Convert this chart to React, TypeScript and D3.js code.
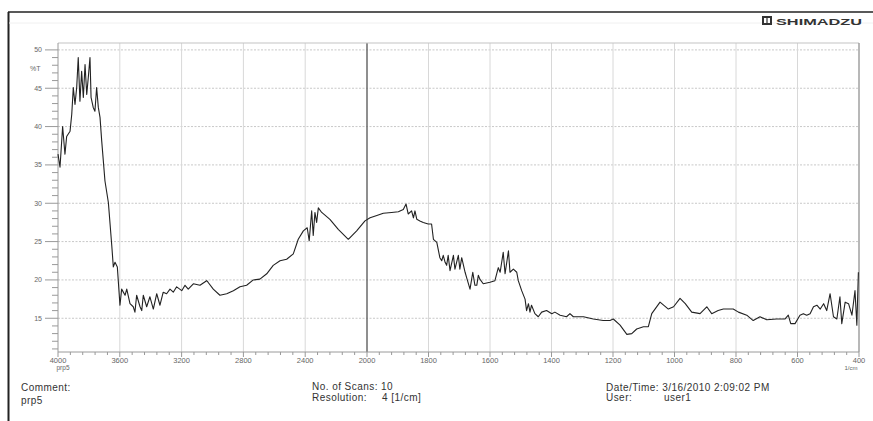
import React, { useEffect, useRef } from "react";
import * as d3 from "d3";

// wavenumber (1/cm)
const wavenumbers = [
  4000, 3987, 3970, 3955, 3944, 3922, 3911, 3901, 3890, 3879, 3869, 3858, 3847, 3836, 3825, 3814,
  3804, 3793, 3786, 3772, 3761, 3750, 3739, 3728, 3717, 3696, 3674, 3652, 3642, 3631, 3616, 3599,
  3588, 3566, 3555, 3534, 3513, 3502, 3491, 3469, 3458, 3448, 3426, 3405, 3383, 3361, 3340, 3319,
  3297, 3275, 3254, 3232, 3199, 3178, 3157, 3124, 3081, 3038, 3029, 2995, 2952, 2908, 2865, 2822,
  2779, 2736, 2693, 2649, 2607, 2563, 2520, 2477, 2445, 2412, 2387, 2374, 2358, 2348, 2337, 2326,
  2315, 2293, 2240, 2186, 2121, 2067, 2013, 1990, 1968, 1947, 1920, 1898, 1882, 1873, 1866, 1855,
  1849, 1844, 1838, 1828, 1817, 1801, 1790, 1784, 1773, 1763, 1757, 1752, 1746, 1741, 1736, 1730,
  1719, 1714, 1703, 1698, 1692, 1681, 1676, 1665, 1656, 1649, 1643, 1638, 1633, 1622, 1600, 1584,
  1573, 1567, 1557, 1551, 1540, 1535, 1524, 1513, 1508, 1497, 1486, 1481, 1475, 1470, 1465, 1454,
  1443, 1432, 1416, 1399, 1389, 1372, 1351, 1340, 1329, 1296, 1264, 1232, 1210, 1199, 1177, 1155,
  1139, 1123, 1101, 1085, 1074, 1047, 1020, 1003, 982, 965, 944, 917, 895, 879, 858, 841,
  809, 792, 765, 744, 722, 700, 668, 641, 630, 622, 608, 592, 581, 570, 559, 548,
  537, 526, 515, 505, 494, 483, 472, 462, 456, 445, 434, 423, 413, 407, 402,
];

// transmittance %T at each wavenumber
const transmittance = [
  36.4, 34.7, 40.0, 36.4, 38.7, 39.4, 41.6, 45.1, 42.9, 45.1, 49.0, 43.3, 47.2, 43.8, 48.1, 44.2,
  46.4, 49.0, 43.8, 42.5, 42.0, 45.1, 42.5, 41.2, 38.1, 32.9, 30.1, 24.5, 21.7, 22.3, 21.7, 16.7,
  18.8, 18.0, 18.8, 16.9, 16.5, 15.8, 18.0, 16.5, 16.0, 18.0, 16.5, 17.8, 16.2, 18.2, 16.7, 18.4,
  18.2, 18.8, 18.4, 19.1, 18.6, 19.3, 18.8, 19.5, 19.3, 19.9, 19.7, 18.8, 18.0, 18.2, 18.6, 19.1,
  19.3, 20.0, 20.1, 20.8, 21.9, 22.5, 22.7, 23.4, 25.3, 26.4, 26.8, 25.1, 29.0, 25.8, 28.8, 27.5,
  29.4, 28.8, 27.9, 26.6, 25.3, 26.4, 27.7, 28.1, 28.4, 28.7, 28.8, 28.9, 29.2, 29.9, 28.6, 29.0,
  28.1, 29.0, 27.9, 27.7, 27.5, 27.3, 27.3, 25.3, 24.9, 22.9, 22.5, 23.2, 22.3, 21.9, 23.2, 21.2,
  23.2, 21.4, 23.2, 21.4, 22.9, 21.0, 20.3, 18.8, 21.0, 19.3, 19.3, 20.6, 20.1, 19.5, 19.7, 19.9,
  21.6, 21.0, 23.6, 20.8, 23.8, 21.0, 21.4, 21.0, 19.9, 18.6, 17.5, 16.0, 16.9, 15.8, 16.7, 15.6,
  15.2, 15.8, 16.0, 15.6, 15.8, 15.4, 15.2, 15.6, 15.2, 15.2, 14.9, 14.7, 14.7, 14.9, 14.1, 12.9,
  13.0, 13.6, 13.9, 13.9, 15.6, 17.1, 16.2, 16.5, 17.6, 16.9, 15.8, 15.6, 16.5, 15.6, 16.0, 16.2,
  16.2, 15.8, 15.4, 14.7, 15.2, 14.8, 14.9, 14.9, 15.4, 14.3, 14.3, 15.4, 15.6, 15.4, 15.6, 16.5,
  16.7, 16.2, 16.9, 16.0, 18.2, 15.2, 14.9, 17.8, 14.3, 17.1, 16.9, 15.4, 18.6, 14.1, 21.0,
];

const xMajorTicks = [4000, 3600, 3200, 2800, 2400, 2000, 1800, 1600, 1400, 1200, 1000, 800, 600, 400];
const yMajorTicks = [15, 20, 25, 30, 35, 40, 45, 50];

const App: React.FC = () => {
  const svgRef: any = useRef();

  useEffect(() => {
    const svg = d3.select(svgRef.current);
    svg.selectAll("*").remove();

    const width = 873;
    const font = "'Liberation Sans', Arial, sans-serif";

    const left = 58;
    const right = 859;
    const top = 43;
    const bottom = 352;

    // Shimadzu charts switch to a doubled scale below 2000 1/cm
    const xScale = d3.scaleLinear().domain([4000, 2000, 400]).range([left, 367, right]);
    const yScale = d3.scaleLinear().domain([10.6, 50.9]).range([bottom, top]);

    // outer frame
    svg.append("line").attr("x1", 8).attr("y1", 12).attr("x2", width).attr("y2", 12)
      .attr("stroke", "#222").attr("stroke-width", 1.6);
    svg.append("line").attr("x1", 8.5).attr("y1", 12).attr("x2", 8.5).attr("y2", 421)
      .attr("stroke", "#222").attr("stroke-width", 2);
    svg.append("line").attr("x1", 9).attr("y1", 23).attr("x2", width).attr("y2", 23)
      .attr("stroke", "#f0f0f0").attr("stroke-width", 1);

    // logo
    const logo = svg.append("g").attr("transform", "translate(762,16)");
    logo.append("rect").attr("x", 0).attr("y", 0).attr("width", 10).attr("height", 9).attr("fill", "#333");
    logo.append("rect").attr("x", 2).attr("y", 2).attr("width", 6).attr("height", 5).attr("fill", "#fff");
    logo.append("line").attr("x1", 5).attr("y1", 0).attr("x2", 5).attr("y2", 9).attr("stroke", "#333").attr("stroke-width", 1.2);
    svg.append("text").attr("x", 776).attr("y", 24.5)
      .attr("font-family", font).attr("font-size", "9.5px").attr("font-weight", "bold")
      .attr("textLength", 86).attr("lengthAdjust", "spacingAndGlyphs")
      .attr("fill", "#333").text("SHIMADZU");

    // horizontal dotted grid
    yMajorTicks.forEach((t) => {
      svg.append("line")
        .attr("x1", left).attr("x2", right)
        .attr("y1", yScale(t)).attr("y2", yScale(t))
        .attr("stroke", "#c8c8c8").attr("stroke-width", 1)
        .attr("stroke-dasharray", "2,1.5");
    });

    // vertical grid
    xMajorTicks.slice(1, -1).forEach((t) => {
      svg.append("line")
        .attr("x1", xScale(t)).attr("x2", xScale(t))
        .attr("y1", top).attr("y2", bottom)
        .attr("stroke", t === 2000 ? "#6a6a6a" : "#d8d8d8")
        .attr("stroke-width", t === 2000 ? 1.5 : 1);
    });

    // plot frame
    svg.append("line").attr("x1", left).attr("x2", right).attr("y1", top).attr("y2", top)
      .attr("stroke", "#c4c4c4").attr("stroke-width", 1.2);
    svg.append("line").attr("x1", right).attr("x2", right).attr("y1", top).attr("y2", bottom)
      .attr("stroke", "#9a9a9a").attr("stroke-width", 1.4);
    svg.append("line").attr("x1", left).attr("x2", left).attr("y1", top).attr("y2", bottom)
      .attr("stroke", "#9a9a9a").attr("stroke-width", 1);
    svg.append("line").attr("x1", left).attr("x2", right).attr("y1", bottom).attr("y2", bottom)
      .attr("stroke", "#9a9a9a").attr("stroke-width", 1);

    // y ticks
    d3.range(11, 51, 1).forEach((t) => {
      const major = t % 5 === 0;
      svg.append("line")
        .attr("x1", major ? 45 : 52).attr("x2", left)
        .attr("y1", yScale(t)).attr("y2", yScale(t))
        .attr("stroke", "#999").attr("stroke-width", 1);
    });
    yMajorTicks.forEach((t) => {
      svg.append("text")
        .attr("x", 42).attr("y", yScale(t)).attr("dy", "0.35em")
        .attr("text-anchor", "end")
        .attr("font-family", font).attr("font-size", "7px")
        .attr("fill", "#666").text(t);
    });
    svg.append("text").attr("x", 30).attr("y", 71)
      .attr("font-family", font).attr("font-size", "7px").attr("fill", "#666").text("%T");

    // x ticks
    const xMinor = d3.range(4000, 2000, -80).concat(d3.range(2000, 399, -40));
    xMinor.forEach((t) => {
      const major = xMajorTicks.includes(t);
      svg.append("line")
        .attr("x1", xScale(t)).attr("x2", xScale(t))
        .attr("y1", bottom).attr("y2", bottom + (major ? 5 : 3))
        .attr("stroke", "#999").attr("stroke-width", 1);
    });
    xMajorTicks.forEach((t) => {
      svg.append("text")
        .attr("x", xScale(t)).attr("y", 363)
        .attr("text-anchor", "middle")
        .attr("font-family", font).attr("font-size", "7.5px")
        .attr("fill", "#666").text(t);
    });
    svg.append("text").attr("x", 63).attr("y", 370).attr("text-anchor", "middle")
      .attr("font-family", font).attr("font-size", "6.5px").attr("fill", "#666").text("prp5");
    svg.append("text").attr("x", 851).attr("y", 370).attr("text-anchor", "middle")
      .attr("font-family", font).attr("font-size", "6px").attr("fill", "#666").text("1/cm");

    // spectrum
    const points: [number, number][] = wavenumbers.map((w, i) => [w, transmittance[i]]);
    const line: any = d3.line()
      .x((d: any) => xScale(d[0]))
      .y((d: any) => yScale(d[1]))
      .curve(d3.curveLinear);

    svg.append("path")
      .datum(points)
      .attr("fill", "none")
      .attr("stroke", "#222")
      .attr("stroke-width", 1.1)
      .attr("stroke-linejoin", "round")
      .attr("d", line);

    // footer
    const footer = [
      { x: 21, y: 391, t: "Comment:" },
      { x: 21, y: 404, t: "prp5" },
      { x: 312, y: 390, t: "No. of Scans: 10" },
      { x: 312, y: 401, t: "Resolution:" },
      { x: 382, y: 401, t: "4 [1/cm]" },
      { x: 606, y: 391, t: "Date/Time: 3/16/2010 2:09:02 PM" },
      { x: 606, y: 401, t: "User:" },
      { x: 664, y: 401, t: "user1" },
    ];
    footer.forEach((f) => {
      svg.append("text")
        .attr("x", f.x).attr("y", f.y)
        .attr("font-family", font).attr("font-size", "10px")
        .attr("letter-spacing", "0.45px")
        .attr("fill", "#333").text(f.t);
    });
  }, []);

  return (
    <svg
      ref={svgRef}
      width={873}
      height={421}
      style={{ position: "absolute", left: 0, top: 0, background: "#fff" }}
    />
  );
};

export default App;
